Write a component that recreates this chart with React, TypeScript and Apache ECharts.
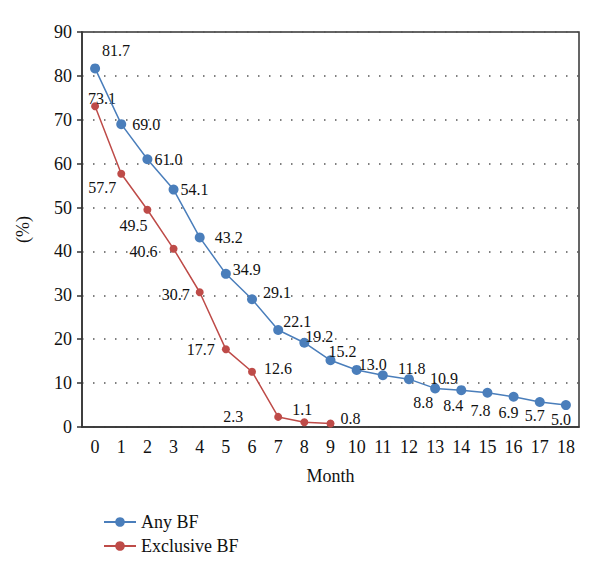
import React, { useEffect, useRef } from "react";
import * as echarts from "echarts";

const months = ["0","1","2","3","4","5","6","7","8","9","10","11","12","13","14","15","16","17","18"];
const anyBF = [81.7, 69.0, 61.0, 54.1, 43.2, 34.9, 29.1, 22.1, 19.2, 15.2, 13.0, 11.8, 10.9, 8.8, 8.4, 7.8, 6.9, 5.7, 5.0];
const exclusiveBF = [73.1, 57.7, 49.5, 40.6, 30.7, 17.7, 12.6, 2.3, 1.1, 0.8];
// label offsets (px) relative to each point
const anyOffsets: [number, number][] = [
  [21, -18], [25, 0], [21, 0], [21, 0], [29, 0], [21, -4], [25, -7], [19, -9], [15, -6], [12, -9],
  [16, -5], [29, -7], [35, -1], [-12, 14], [-8, 15], [-7, 18], [-5, 16], [-5, 14], [-5, 14],
];
const exclOffsets: [number, number][] = [
  [7, -8], [-19, 14], [-14, 16], [-30, 3], [-24, 2], [-25, 0], [26, -3], [-45, 0], [-2, -13], [20, -5],
];
const yTicks = [0, 10, 20, 30, 40, 50, 60, 70, 80, 90];

const FONT = "'Liberation Serif', 'DejaVu Serif', serif";
const BLUE = "#4a7ebb";
const RED = "#be4b48";

export default function App() {
  const ref = useRef<HTMLDivElement>(null);
  useEffect(() => {
    if (!ref.current) return;
    const chart = echarts.init(ref.current, undefined, { renderer: "svg" });
    const mk = (vals: number[], offs: [number, number][]) =>
      vals.map((v, i) => ({
        value: v,
        label: { offset: offs[i] },
      }));
    chart.setOption({
      animation: false,
      backgroundColor: "#ffffff",
      grid: {
        left: 82,
        right: 21,
        top: 32,
        bottom: 151,
        show: true,
        borderColor: "#333",
        borderWidth: 1.5,
      },
      legend: {
        orient: "vertical",
        left: 98,
        top: 508,
        itemWidth: 32,
        itemHeight: 12,
        itemGap: 6,
        textStyle: { fontFamily: FONT, fontSize: 18, color: "#111" },
        data: ["Any BF", "Exclusive BF"],
      },
      xAxis: {
        type: "category",
        data: months,
        boundaryGap: true,
        name: "Month",
        nameLocation: "middle",
        nameGap: 40,
        nameTextStyle: { fontFamily: FONT, fontSize: 18, color: "#111" },
        axisLine: { lineStyle: { color: "#333", width: 1.5 } },
        axisTick: { alignWithLabel: true, length: 5, lineStyle: { color: "#333", width: 1.5 } },
        axisLabel: { fontFamily: FONT, fontSize: 18, color: "#111", margin: 11, interval: 0 },
        splitLine: { show: false },
      },
      yAxis: {
        type: "value",
        min: yTicks[0],
        max: yTicks[yTicks.length - 1],
        interval: 10,
        name: "(%)",
        nameLocation: "middle",
        nameGap: 50,
        nameTextStyle: { fontFamily: FONT, fontSize: 18, color: "#111" },
        axisLine: { show: true, lineStyle: { color: "#333", width: 1.5 } },
        axisTick: { show: true, length: 5, lineStyle: { color: "#333", width: 1.5 } },
        axisLabel: { fontFamily: FONT, fontSize: 18, color: "#111", margin: 10 },
        splitLine: { show: true, lineStyle: { type: [1.5, 9.5], color: "#555", width: 1.5 } },
      },
      series: [
        {
          name: "Any BF",
          type: "line",
          data: mk(anyBF, anyOffsets),
          symbol: "circle",
          symbolSize: 10,
          itemStyle: { color: BLUE },
          lineStyle: { color: BLUE, width: 1.5 },
          label: {
            show: true,
            position: "inside",
            align: "center",
            verticalAlign: "middle",
            fontFamily: FONT,
            fontSize: 16,
            color: "#111",
            formatter: (p: any) => Number(p.value).toFixed(1),
          },
          z: 3,
        },
        {
          name: "Exclusive BF",
          type: "line",
          data: mk(exclusiveBF, exclOffsets),
          symbol: "circle",
          symbolSize: 8,
          itemStyle: { color: RED },
          lineStyle: { color: RED, width: 1.5 },
          label: {
            show: true,
            position: "inside",
            align: "center",
            verticalAlign: "middle",
            fontFamily: FONT,
            fontSize: 16,
            color: "#111",
            formatter: (p: any) => Number(p.value).toFixed(1),
          },
          z: 2,
        },
      ],
    });
    return () => chart.dispose();
  }, []);
  return <div ref={ref} style={{ width: 600, height: 578, margin: -8 }} />;
}
